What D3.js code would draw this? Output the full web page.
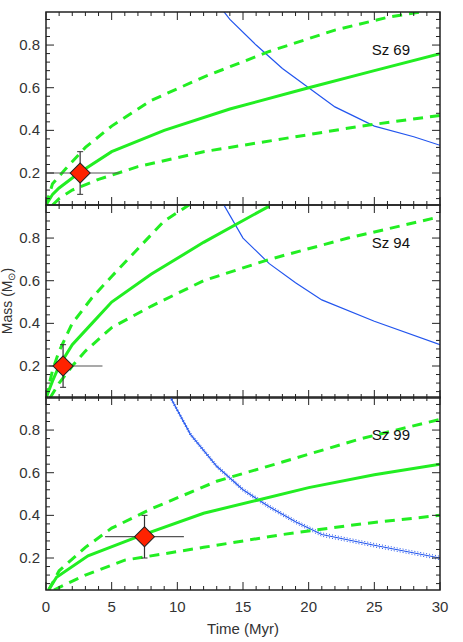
<!DOCTYPE html>
<html><head><meta charset="utf-8">
<script src="https://cdn.jsdelivr.net/npm/d3@7"></script>
<style>body{margin:0;background:#fff}text{font-family:"Liberation Sans",Arial,sans-serif;fill:#333}</style>
</head><body><svg id="c" width="463" height="642"></svg>
<script>
var names = ['Sz 69', 'Sz 94', 'Sz 99'];
var solid = [
  [[0,0.05],[0.5,0.1],[1,0.13],[2.5,0.2],[5,0.3],[9,0.4],[14,0.5],[20,0.6],[25,0.68],[30,0.76]],
  [[0,0.05],[0.5,0.13],[1,0.2],[2,0.3],[3.5,0.4],[5,0.5],[8,0.63],[12,0.78],[17,0.95]],
  [[0.2,0.05],[0.8,0.11],[3.2,0.21],[7,0.3],[12,0.41],[16,0.47],[20,0.53],[25,0.59],[30,0.64]]
];
var upper = [
  [[0,0.05],[0.5,0.15],[1.5,0.22],[3,0.32],[5,0.42],[8,0.54],[12,0.65],[17,0.77],[22,0.87],[26,0.93],[29,0.96]],
  [[0,0.05],[0.5,0.18],[1,0.27],[2,0.4],[3.5,0.52],[5,0.62],[7,0.75],[9,0.88],[11,0.96]],
  [[0.2,0.05],[1,0.14],[3,0.25],[5,0.34],[8,0.43],[13,0.56],[18,0.65],[24,0.76],[30,0.85]]
];
var lower = [
  [[0.5,0.05],[1,0.08],[2,0.12],[4,0.17],[7,0.23],[12,0.3],[18,0.36],[24,0.42],[30,0.47]],
  [[0.3,0.05],[1,0.12],[2,0.2],[3,0.27],[5,0.38],[8,0.48],[12,0.6],[17,0.7],[23,0.8],[30,0.9]],
  [[0.6,0.05],[3,0.12],[6,0.19],[12,0.25],[18,0.31],[24,0.36],[30,0.4]]
];
var blue = [
  [[13.5,0.96],[14,0.92],[16,0.8],[18,0.69],[20,0.6],[22,0.51],[25,0.42],[28,0.37],[30,0.33]],
  [[13.5,0.96],[15,0.8],[17,0.68],[19,0.59],[21,0.51],[25,0.41],[30,0.3]],
  [[9.5,0.95],[11,0.78],[13,0.63],[15,0.52],[17,0.44],[19,0.37],[21,0.31],[25,0.26],[30,0.2]]
];
var blueErr = [null, null, 0.008];
// star: [age, ageLo, ageHi, mass, massLo, massHi]
var stars = [[2.6,0,5.6,0.2,0.1,0.3],[1.3,0.2,4.3,0.2,0.1,0.3],[7.5,4.5,10.5,0.3,0.2,0.4]];
var xTicks = [0,5,10,15,20,25,30];
var yTicks = [0.2,0.4,0.6,0.8];

var left = 46, right = 440, tops = [12, 205, 397], ph = 193;
var svg = d3.select('#c');
var x = d3.scaleLinear().domain([0,30]).range([left,right]);
var line = null;

tops.forEach(function(t, i) {
  var y = d3.scaleLinear().domain([0.05,0.955]).range([t+ph, t]);
  line = d3.line().x(function(d){return x(d[0]);}).y(function(d){return y(d[1]);});
  var g = svg.append('g');
  g.append('clipPath').attr('id','cp'+i).append('rect').attr('x',left).attr('y',t).attr('width',right-left).attr('height',ph);
  var p = g.append('g').attr('clip-path','url(#cp'+i+')');

  if (blueErr[i]) {
    [-1,1].forEach(function(s){
      p.append('path').attr('d', line(blue[i].map(function(d){return [d[0], d[1]+s*blueErr[i]];})))
        .attr('fill','none').attr('stroke','#2255ee').attr('stroke-width',1).attr('stroke-dasharray','1,2');
    });
  }
  p.append('path').attr('d', line(blue[i])).attr('fill','none').attr('stroke','#2255ee').attr('stroke-width',1.2);
  p.append('path').attr('d', line(solid[i])).attr('fill','none').attr('stroke','#22ee22').attr('stroke-width',3);
  [upper[i], lower[i]].forEach(function(l){
    p.append('path').attr('d', line(l)).attr('fill','none').attr('stroke','#22ee22').attr('stroke-width',3).attr('stroke-dasharray','10,7');
  });

  var s = stars[i];
  p.append('line').attr('x1',x(s[1])).attr('x2',x(s[2])).attr('y1',y(s[3])).attr('y2',y(s[3])).attr('stroke','#555').attr('stroke-width',1.2);
  p.append('line').attr('x1',x(s[0])).attr('x2',x(s[0])).attr('y1',y(s[4])).attr('y2',y(s[5])).attr('stroke','#333').attr('stroke-width',1.2);
  [s[4], s[5]].forEach(function(v){
    p.append('line').attr('x1',x(s[0])-3).attr('x2',x(s[0])+3).attr('y1',y(v)).attr('y2',y(v)).attr('stroke','#333');
  });
  p.append('path').attr('d', d3.symbol().type(d3.symbolSquare).size(200)())
    .attr('transform','translate('+x(s[0])+','+y(s[3])+') rotate(45)')
    .attr('fill','#ff2200').attr('stroke','#222').attr('stroke-width',1);

  // axes with inward ticks
  var ax = g.append('g').attr('stroke','#222');
  d3.range(0,31,1).forEach(function(v){
    var len = v % 5 === 0 ? 8 : 4;
    ax.append('line').attr('x1',x(v)).attr('x2',x(v)).attr('y1',t+ph).attr('y2',t+ph-len);
    ax.append('line').attr('x1',x(v)).attr('x2',x(v)).attr('y1',t).attr('y2',t+len);
  });
  d3.range(0.08,0.96,0.04).forEach(function(v){
    var major = yTicks.some(function(m){return Math.abs(m-v)<1e-6;});
    var len = major ? 8 : 4;
    ax.append('line').attr('x1',left).attr('x2',left+len).attr('y1',y(v)).attr('y2',y(v));
    ax.append('line').attr('x1',right).attr('x2',right-len).attr('y1',y(v)).attr('y2',y(v));
  });
  g.append('rect').attr('x',left).attr('y',t).attr('width',right-left).attr('height',ph)
    .attr('fill','none').attr('stroke','#222').attr('stroke-width',1.5);

  yTicks.forEach(function(v){
    g.append('text').attr('x',left-6).attr('y',y(v)+5).attr('text-anchor','end').attr('font-size',15).text(v.toFixed(1));
  });
  g.append('text').attr('x',410).attr('y',t+43).attr('text-anchor','end').attr('font-size',15).attr('style','fill:#111').text(names[i]);
});

xTicks.forEach(function(v){
  svg.append('text').attr('x',x(v)).attr('y',612).attr('text-anchor','middle').attr('font-size',15).text(v);
});
svg.append('text').attr('x',x(15)).attr('y',634).attr('text-anchor','middle').attr('font-size',15).text('Time (Myr)');
var yl = svg.append('text').attr('transform','translate(12,301) rotate(-90)').attr('text-anchor','middle').attr('font-size',14);
yl.append('tspan').text('Mass (M');
yl.append('tspan').attr('font-size',10).attr('dy',3).text('⊙');
yl.append('tspan').attr('dy',-3).text(')');
</script></body></html>
